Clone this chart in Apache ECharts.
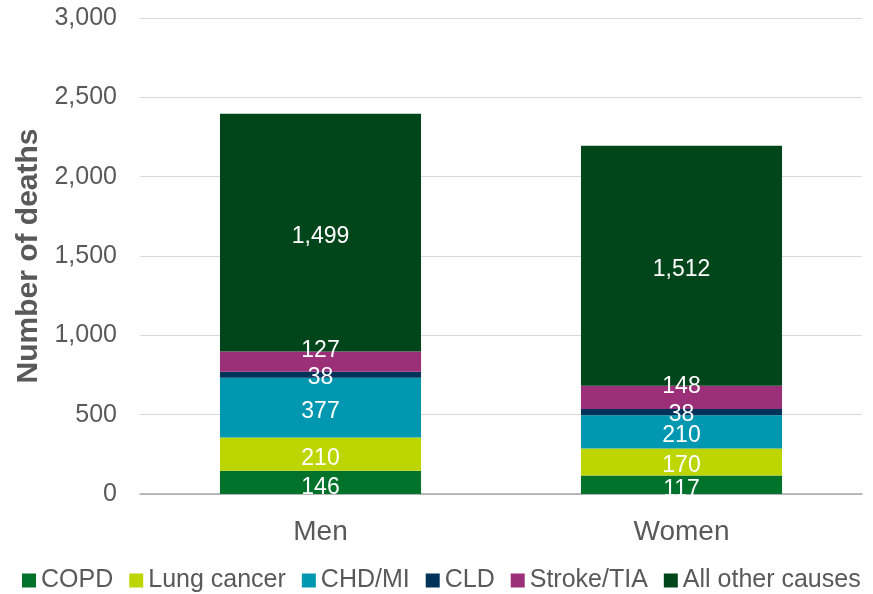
<!DOCTYPE html>
<html>
<head>
<meta charset="utf-8">
<script src="https://cdn.jsdelivr.net/npm/echarts@6/dist/echarts.min.js"></script>
<style>
  html, body { margin: 0; padding: 0; background: #fff; }
  #chart { width: 873px; height: 594px; }
</style>
</head>
<body>
<div id="chart"></div>
<script>
const categories = ['Men', 'Women'];
const copd = [146, 117];
const lungCancer = [210, 170];
const chdMi = [377, 210];
const cld = [38, 38];
const strokeTia = [127, 148];
const otherCauses = [1499, 1512];

const chart = echarts.init(document.getElementById('chart'));
const font = '"Liberation Sans", Arial, sans-serif';

function bar(name, data, color, offset) {
  return {
    name: name,
    type: 'bar',
    stack: 'total',
    data: data,
    barWidth: '55.7%',
    itemStyle: { color: color },
    label: {
      show: true,
      position: 'inside',
      color: '#fff',
      fontSize: 23,
      fontFamily: font,
      offset: offset || [0, 4],
      formatter: p => p.value.toLocaleString('en-US')
    }
  };
}

chart.setOption({
  animation: false,
  grid: { left: 140, right: 11, top: 18, bottom: 100 },
  legend: {
    top: 563,
    left: 17,
    itemWidth: 14,
    itemHeight: 14,
    itemGap: 16,
    icon: 'rect',
    textStyle: { color: '#595959', fontSize: 25, fontFamily: font }
  },
  xAxis: {
    type: 'category',
    data: categories,
    axisLine: { lineStyle: { color: '#a6a6a6', width: 1.5 } },
    axisTick: { show: false },
    axisLabel: { color: '#595959', fontSize: 28, fontFamily: font, margin: 24 }
  },
  yAxis: {
    type: 'value',
    min: 0,
    max: 3000,
    interval: 500,
    name: 'Number of deaths',
    nameLocation: 'middle',
    nameGap: 91,
    nameTextStyle: { color: '#595959', fontSize: 30, fontWeight: 'bold', fontFamily: font },
    axisLine: { show: false },
    axisTick: { show: false },
    axisLabel: {
      color: '#595959',
      fontSize: 25,
      fontFamily: font,
      margin: 23,
      formatter: v => v.toLocaleString('en-US')
    },
    splitLine: { lineStyle: { color: '#d9d9d9', width: 1 } }
  },
  series: [
    bar('COPD', copd, '#00722a', [0, 5]),
    bar('Lung cancer', lungCancer, '#bdd500'),
    bar('CHD/MI', chdMi, '#0098b0'),
    bar('CLD', cld, '#00335a', [0, 3]),
    bar('Stroke/TIA', strokeTia, '#9b3078', [0, -11]),
    bar('All other causes', otherCauses, '#00461a')
  ]
});
</script>
</body>
</html>
